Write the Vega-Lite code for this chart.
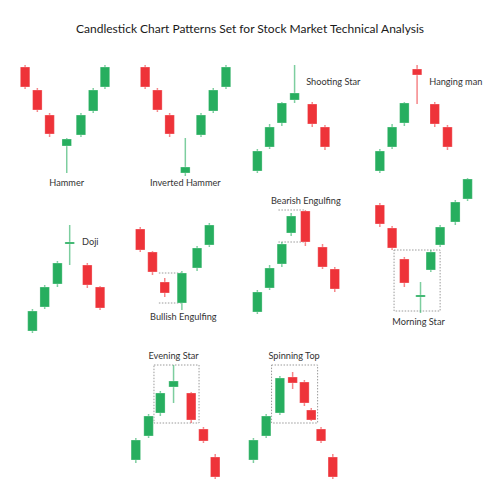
{
  "$schema": "https://vega.github.io/schema/vega-lite/v6.json",
  "width": 500,
  "height": 500,
  "autosize": {"type": "fit", "contains": "padding"},
  "padding": 0,
  "background": "white",
  "config": {"view": {"stroke": null}},
  "datasets": {
    "candles": [
      {"pattern": "Hammer", "x": 20.5, "top": 67, "bot": 87, "hi": 65, "lo": 89, "dir": "down"},
      {"pattern": "Hammer", "x": 33, "top": 90, "bot": 110, "hi": 88, "lo": 112, "dir": "down"},
      {"pattern": "Hammer", "x": 45.5, "top": 115, "bot": 134, "hi": 113, "lo": 137, "dir": "down"},
      {"pattern": "Hammer", "x": 63, "top": 139, "bot": 146, "hi": 138, "lo": 173, "dir": "up"},
      {"pattern": "Hammer", "x": 77.5, "top": 115, "bot": 135, "hi": 113, "lo": 137, "dir": "up"},
      {"pattern": "Hammer", "x": 90, "top": 90, "bot": 111, "hi": 88, "lo": 113, "dir": "up"},
      {"pattern": "Hammer", "x": 102, "top": 67, "bot": 87, "hi": 65, "lo": 89, "dir": "up"},
      {"pattern": "Inverted Hammer", "x": 143, "top": 67, "bot": 87, "hi": 65, "lo": 89, "dir": "down"},
      {"pattern": "Inverted Hammer", "x": 155.5, "top": 90, "bot": 110, "hi": 88, "lo": 112, "dir": "down"},
      {"pattern": "Inverted Hammer", "x": 168, "top": 115, "bot": 134, "hi": 113, "lo": 137, "dir": "down"},
      {"pattern": "Inverted Hammer", "x": 184, "top": 167, "bot": 173, "hi": 138, "lo": 176, "dir": "up"},
      {"pattern": "Inverted Hammer", "x": 200, "top": 115, "bot": 135, "hi": 113, "lo": 137, "dir": "up"},
      {"pattern": "Inverted Hammer", "x": 212.5, "top": 90, "bot": 111, "hi": 88, "lo": 113, "dir": "up"},
      {"pattern": "Inverted Hammer", "x": 225.5, "top": 67, "bot": 87, "hi": 65, "lo": 89, "dir": "up"},
      {"pattern": "Shooting Star", "x": 257.5, "top": 151, "bot": 171, "hi": 149, "lo": 173, "dir": "up"},
      {"pattern": "Shooting Star", "x": 270, "top": 127, "bot": 147, "hi": 124, "lo": 149, "dir": "up"},
      {"pattern": "Shooting Star", "x": 282.5, "top": 103, "bot": 123, "hi": 102, "lo": 126, "dir": "up"},
      {"pattern": "Shooting Star", "x": 295.5, "top": 93, "bot": 100, "hi": 65, "lo": 103, "dir": "up"},
      {"pattern": "Shooting Star", "x": 313.5, "top": 104, "bot": 124, "hi": 102, "lo": 127, "dir": "down"},
      {"pattern": "Shooting Star", "x": 326.5, "top": 127, "bot": 147, "hi": 125, "lo": 150, "dir": "down"},
      {"pattern": "Hanging man", "x": 382.5, "top": 151, "bot": 171, "hi": 149, "lo": 173, "dir": "up"},
      {"pattern": "Hanging man", "x": 395, "top": 127, "bot": 147, "hi": 124, "lo": 149, "dir": "up"},
      {"pattern": "Hanging man", "x": 407.5, "top": 103, "bot": 123, "hi": 102, "lo": 126, "dir": "up"},
      {"pattern": "Hanging man", "x": 420.5, "top": 69, "bot": 75, "hi": 65, "lo": 104, "dir": "down"},
      {"pattern": "Hanging man", "x": 438.5, "top": 104, "bot": 124, "hi": 102, "lo": 127, "dir": "down"},
      {"pattern": "Hanging man", "x": 451.5, "top": 127, "bot": 147, "hi": 125, "lo": 150, "dir": "down"},
      {"pattern": "Doji", "x": 28, "top": 311, "bot": 331, "hi": 309, "lo": 333, "dir": "up"},
      {"pattern": "Doji", "x": 40.5, "top": 287, "bot": 307, "hi": 285, "lo": 309, "dir": "up"},
      {"pattern": "Doji", "x": 53.5, "top": 263, "bot": 284, "hi": 261, "lo": 287, "dir": "up"},
      {"pattern": "Doji", "x": 66, "top": 242, "bot": 244, "hi": 225, "lo": 265, "dir": "up"},
      {"pattern": "Doji", "x": 84, "top": 265, "bot": 285, "hi": 263, "lo": 288, "dir": "down"},
      {"pattern": "Doji", "x": 97, "top": 287, "bot": 308, "hi": 286, "lo": 310, "dir": "down"},
      {"pattern": "Bullish Engulfing", "x": 138, "top": 229, "bot": 250, "hi": 227, "lo": 252, "dir": "down"},
      {"pattern": "Bullish Engulfing", "x": 150.5, "top": 252, "bot": 272, "hi": 251, "lo": 275, "dir": "down"},
      {"pattern": "Bullish Engulfing", "x": 163, "top": 282, "bot": 293, "hi": 278, "lo": 297, "dir": "down"},
      {"pattern": "Bullish Engulfing", "x": 180.5, "top": 273, "bot": 303, "hi": 271, "lo": 310, "dir": "up"},
      {"pattern": "Bullish Engulfing", "x": 196, "top": 248, "bot": 268, "hi": 246, "lo": 271, "dir": "up"},
      {"pattern": "Bullish Engulfing", "x": 208.5, "top": 225, "bot": 245, "hi": 223, "lo": 247, "dir": "up"},
      {"pattern": "Bearish Engulfing", "x": 257.5, "top": 292, "bot": 312, "hi": 290, "lo": 314, "dir": "up"},
      {"pattern": "Bearish Engulfing", "x": 270, "top": 268, "bot": 288, "hi": 265, "lo": 290, "dir": "up"},
      {"pattern": "Bearish Engulfing", "x": 282.5, "top": 244, "bot": 264, "hi": 242, "lo": 267, "dir": "up"},
      {"pattern": "Bearish Engulfing", "x": 292, "top": 216, "bot": 233, "hi": 213, "lo": 236, "dir": "up"},
      {"pattern": "Bearish Engulfing", "x": 306.5, "top": 211, "bot": 242, "hi": 210, "lo": 246, "dir": "down"},
      {"pattern": "Bearish Engulfing", "x": 324, "top": 247, "bot": 267, "hi": 244, "lo": 269, "dir": "down"},
      {"pattern": "Bearish Engulfing", "x": 336.5, "top": 269, "bot": 289, "hi": 267, "lo": 292, "dir": "down"},
      {"pattern": "Morning Star", "x": 382.5, "top": 205, "bot": 224, "hi": 203, "lo": 227, "dir": "down"},
      {"pattern": "Morning Star", "x": 395, "top": 228, "bot": 248, "hi": 226, "lo": 250, "dir": "down"},
      {"pattern": "Morning Star", "x": 407.5, "top": 259, "bot": 283, "hi": 257, "lo": 287, "dir": "down"},
      {"pattern": "Morning Star", "x": 424, "top": 295, "bot": 297, "hi": 282, "lo": 313, "dir": "up"},
      {"pattern": "Morning Star", "x": 434.5, "top": 252, "bot": 270, "hi": 250, "lo": 272, "dir": "up"},
      {"pattern": "Morning Star", "x": 444, "top": 227, "bot": 245, "hi": 225, "lo": 247, "dir": "up"},
      {"pattern": "Morning Star", "x": 459.5, "top": 202, "bot": 222, "hi": 200, "lo": 225, "dir": "up"},
      {"pattern": "Morning Star", "x": 472, "top": 179, "bot": 199, "hi": 178, "lo": 201, "dir": "up"},
      {"pattern": "Evening Star", "x": 133.5, "top": 440, "bot": 460, "hi": 438, "lo": 463, "dir": "up"},
      {"pattern": "Evening Star", "x": 146.5, "top": 416, "bot": 436, "hi": 414, "lo": 438, "dir": "up"},
      {"pattern": "Evening Star", "x": 158.5, "top": 393, "bot": 413, "hi": 391, "lo": 416, "dir": "up"},
      {"pattern": "Evening Star", "x": 172, "top": 381, "bot": 387, "hi": 365, "lo": 403, "dir": "up"},
      {"pattern": "Evening Star", "x": 190, "top": 393, "bot": 420, "hi": 392, "lo": 423, "dir": "down"},
      {"pattern": "Evening Star", "x": 202.5, "top": 429, "bot": 441, "hi": 427, "lo": 443, "dir": "down"},
      {"pattern": "Evening Star", "x": 214.5, "top": 457, "bot": 477, "hi": 454, "lo": 479, "dir": "down"},
      {"pattern": "Spinning Top", "x": 253.5, "top": 440, "bot": 460, "hi": 438, "lo": 463, "dir": "up"},
      {"pattern": "Spinning Top", "x": 266.5, "top": 416, "bot": 436, "hi": 414, "lo": 438, "dir": "up"},
      {"pattern": "Spinning Top", "x": 280.5, "top": 378, "bot": 413, "hi": 376, "lo": 415, "dir": "up"},
      {"pattern": "Spinning Top", "x": 293.5, "top": 377, "bot": 383, "hi": 372, "lo": 389, "dir": "down"},
      {"pattern": "Spinning Top", "x": 305.5, "top": 382, "bot": 403, "hi": 380, "lo": 406, "dir": "down"},
      {"pattern": "Spinning Top", "x": 312.5, "top": 410, "bot": 420, "hi": 408, "lo": 421, "dir": "down"},
      {"pattern": "Spinning Top", "x": 322.5, "top": 429, "bot": 441, "hi": 427, "lo": 443, "dir": "down"},
      {"pattern": "Spinning Top", "x": 334.5, "top": 457, "bot": 477, "hi": 454, "lo": 479, "dir": "down"}
    ],
    "boxes": [
      {"pattern": "Morning Star", "x1": 397, "x2": 444, "y1": 250, "y2": 311},
      {"pattern": "Evening Star", "x1": 152, "x2": 198, "y1": 365, "y2": 423},
      {"pattern": "Spinning Top", "x1": 272, "x2": 319, "y1": 365, "y2": 423}
    ],
    "lines": [
      {"pattern": "Bullish Engulfing", "x1": 157, "x2": 180, "y": 273},
      {"pattern": "Bullish Engulfing", "x1": 157, "x2": 180, "y": 303},
      {"pattern": "Bearish Engulfing", "x1": 279, "x2": 306, "y": 210},
      {"pattern": "Bearish Engulfing", "x1": 279, "x2": 306, "y": 242}
    ],
    "labels": [
      {"label": "Hammer", "x": 63, "y": 183},
      {"label": "Inverted Hammer", "x": 184, "y": 183},
      {"label": "Shooting Star", "x": 335, "y": 82},
      {"label": "Hanging man", "x": 460, "y": 82},
      {"label": "Doji", "x": 87, "y": 242},
      {"label": "Bullish Engulfing", "x": 182, "y": 317},
      {"label": "Bearish Engulfing", "x": 307, "y": 201},
      {"label": "Morning Star", "x": 422, "y": 322},
      {"label": "Evening Star", "x": 172, "y": 356},
      {"label": "Spinning Top", "x": 295, "y": 356}
    ],
    "title": [
      {"label": "Candlestick Chart Patterns Set for Stock Market Technical Analysis", "x": 250, "y": 29}
    ]
  },
  "layer": [
    {
      "data": {"name": "lines"},
      "mark": {"type": "rule", "stroke": "#9a9a9a", "strokeDash": [1.5, 1.5], "strokeWidth": 1},
      "encoding": {
        "x": {"field": "x1", "type": "quantitative", "scale": {"domain": [0, 500], "nice": false, "zero": false}, "axis": null},
        "x2": {"field": "x2"},
        "y": {"field": "y", "type": "quantitative", "scale": {"domain": [0, 500], "reverse": true, "nice": false, "zero": false}, "axis": null}
      }
    },
    {
      "data": {"name": "boxes"},
      "mark": {"type": "rect", "fill": null, "stroke": "#9a9a9a", "strokeDash": [1.5, 1.5], "strokeWidth": 1},
      "encoding": {
        "x": {"field": "x1", "type": "quantitative", "scale": {"domain": [0, 500], "nice": false, "zero": false}, "axis": null},
        "x2": {"field": "x2"},
        "y": {"field": "y1", "type": "quantitative", "scale": {"domain": [0, 500], "reverse": true, "nice": false, "zero": false}, "axis": null},
        "y2": {"field": "y2"}
      }
    },
    {
      "data": {"name": "candles"},
      "mark": {"type": "rule", "strokeWidth": 1.5, "opacity": 0.6},
      "encoding": {
        "x": {"field": "x", "type": "quantitative", "scale": {"domain": [0, 500], "nice": false, "zero": false}, "axis": null},
        "y": {"field": "hi", "type": "quantitative", "scale": {"domain": [0, 500], "reverse": true, "nice": false, "zero": false}, "axis": null},
        "y2": {"field": "lo"},
        "color": {"field": "dir", "type": "nominal", "scale": {"domain": ["up", "down"], "range": ["#27ae5f", "#ee3339"]}, "legend": null}
      }
    },
    {
      "data": {"name": "candles"},
      "mark": {"type": "bar", "width": 9.5, "stroke": "white", "strokeOpacity": 0.35, "strokeWidth": 0.8},
      "encoding": {
        "x": {"field": "x", "type": "quantitative", "scale": {"domain": [0, 500], "nice": false, "zero": false}, "axis": null},
        "y": {"field": "top", "type": "quantitative", "scale": {"domain": [0, 500], "reverse": true, "nice": false, "zero": false}, "axis": null},
        "y2": {"field": "bot"},
        "color": {"field": "dir", "type": "nominal", "scale": {"domain": ["up", "down"], "range": ["#27ae5f", "#ee3339"]}, "legend": null}
      }
    },
    {
      "data": {"name": "labels"},
      "mark": {"type": "text", "font": "Lato", "fontSize": 9.2, "fill": "#333333", "align": "center", "baseline": "middle"},
      "encoding": {
        "x": {"field": "x", "type": "quantitative", "scale": {"domain": [0, 500], "nice": false, "zero": false}, "axis": null},
        "y": {"field": "y", "type": "quantitative", "scale": {"domain": [0, 500], "reverse": true, "nice": false, "zero": false}, "axis": null},
        "text": {"field": "label"}
      }
    },
    {
      "data": {"name": "title"},
      "mark": {"type": "text", "font": "Lato", "fontSize": 12, "fill": "#1a1a1a", "align": "center", "baseline": "middle"},
      "encoding": {
        "x": {"field": "x", "type": "quantitative", "scale": {"domain": [0, 500], "nice": false, "zero": false}, "axis": null},
        "y": {"field": "y", "type": "quantitative", "scale": {"domain": [0, 500], "reverse": true, "nice": false, "zero": false}, "axis": null},
        "text": {"field": "label"}
      }
    }
  ]
}
